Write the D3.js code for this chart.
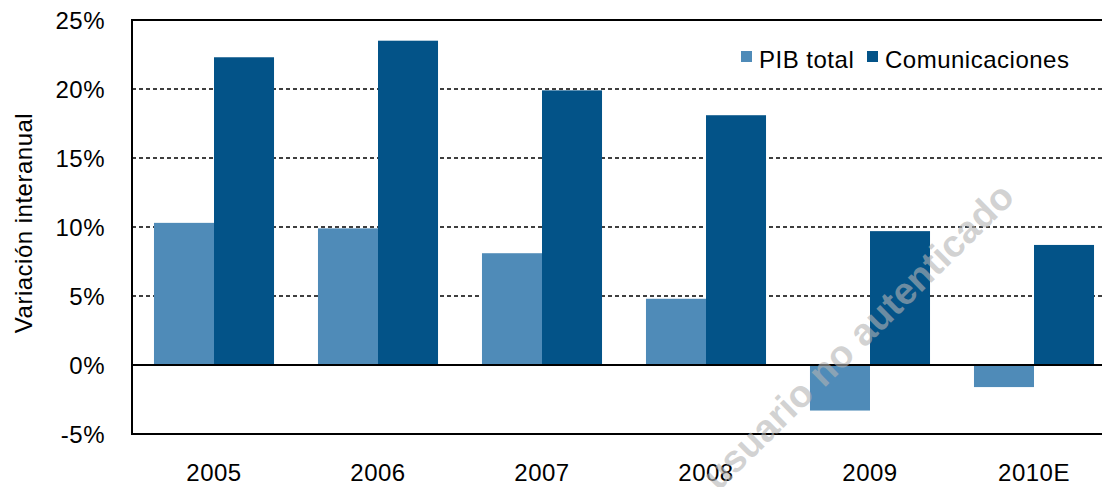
<!DOCTYPE html>
<html>
<head>
<meta charset="utf-8">
<script src="https://cdn.jsdelivr.net/npm/d3@7"></script>
<style>
  body { margin: 0; background: #fff; }
  text { font-family: "Liberation Sans", Arial, sans-serif; fill: #000; letter-spacing: 0.5px; }
</style>
</head>
<body>
<script>
const years = ["2005", "2006", "2007", "2008", "2009", "2010E"]
const pibTotal = [10.3, 9.9, 8.1, 4.8, -3.3, -1.6]
const comunicaciones = [22.3, 23.5, 19.9, 18.1, 9.7, 8.7]
const seriesNames = ["PIB total", "Comunicaciones"]
const seriesColors = ["#4f8bb8", "#035388"]
const yTicks = [-5, 0, 5, 10, 15, 20, 25]

const width = 1102, height = 487

const svg = d3.select("body")
    .append("svg")
    .attr("width", width)
    .attr("height", height)

const x = d3.scaleBand().domain(years).range([132, 1116]).paddingInner(0.268).paddingOuter(0.134)
const xs = d3.scaleBand().domain(seriesNames).range([0, x.bandwidth()])
const y = d3.scaleLinear().domain([-5, 25]).range([434, 20])

// dashed grid
svg.append("g")
    .selectAll("line")
    .data(yTicks.filter(d => d > 0 && d < 25))
    .join("line")
    .attr("x1", 132).attr("x2", width)
    .attr("y1", d => y(d)).attr("y2", d => y(d))
    .attr("stroke", "#000")
    .attr("stroke-width", 1.5)
    .attr("stroke-dasharray", "4,3")

const rows = years.map((yr, i) => ({year: yr, values: [pibTotal[i], comunicaciones[i]]}))

svg.append("g")
    .selectAll("g")
    .data(rows)
    .join("g")
    .attr("transform", d => `translate(${x(d.year)},0)`)
    .selectAll("rect")
    .data(d => d.values.map((v, j) => ({v, name: seriesNames[j], color: seriesColors[j]})))
    .join("rect")
    .attr("x", d => xs(d.name))
    .attr("width", xs.bandwidth())
    .attr("y", d => Math.min(y(d.v), y(0)))
    .attr("height", d => Math.abs(y(d.v) - y(0)))
    .attr("fill", d => d.color)

// frame lines
svg.append("g")
    .selectAll("line")
    .data([25, 0, -5])
    .join("line")
    .attr("x1", 132).attr("x2", width)
    .attr("y1", d => y(d)).attr("y2", d => y(d))
    .attr("stroke", "#000")
    .attr("stroke-width", 2)

svg.append("line")
    .attr("x1", 132).attr("x2", 132)
    .attr("y1", y(25) - 1).attr("y2", y(-5) + 1)
    .attr("stroke", "#000")
    .attr("stroke-width", 2)

// y axis labels
const yAxis = svg.append("g")
    .attr("transform", "translate(132,0)")
    .call(d3.axisLeft(y).tickValues(yTicks).tickSize(0).tickPadding(27).tickFormat(d => d + "%"))
yAxis.select(".domain").remove()
yAxis.selectAll("text").style("font-size", "24px").attr("dy", "0.35em")

// x axis labels
const xAxis = svg.append("g")
    .attr("transform", `translate(0,${y(-5)})`)
    .call(d3.axisBottom(x).tickSize(0).tickPadding(30))
xAxis.select(".domain").remove()
xAxis.selectAll("text").style("font-size", "24px")

svg.append("text")
    .attr("transform", "translate(32,223) rotate(-90)")
    .attr("text-anchor", "middle")
    .style("font-size", "24px")
    .text("Variación interanual")

// legend
const legendX = [741, 867]
const legend = svg.append("g")
    .selectAll("g")
    .data(seriesNames)
    .join("g")
    .attr("transform", (d, i) => `translate(${legendX[i]},51)`)
legend.append("rect")
    .attr("width", 11).attr("height", 11)
    .attr("fill", (d, i) => seriesColors[i])
legend.append("text")
    .attr("x", 18).attr("y", 17)
    .style("font-size", "24px")
    .text(d => d)

// watermark
svg.append("text")
    .attr("transform", "translate(858,336) rotate(-44.5)")
    .attr("text-anchor", "middle")
    .attr("dy", "0.35em")
    .style("font-size", "38px")
    .style("font-weight", "bold")
    .style("letter-spacing", "0px")
    .style("fill", "#b4b4b4")
    .style("fill-opacity", 0.6)
    .text("usuario no autenticado")
</script>
</body>
</html>
